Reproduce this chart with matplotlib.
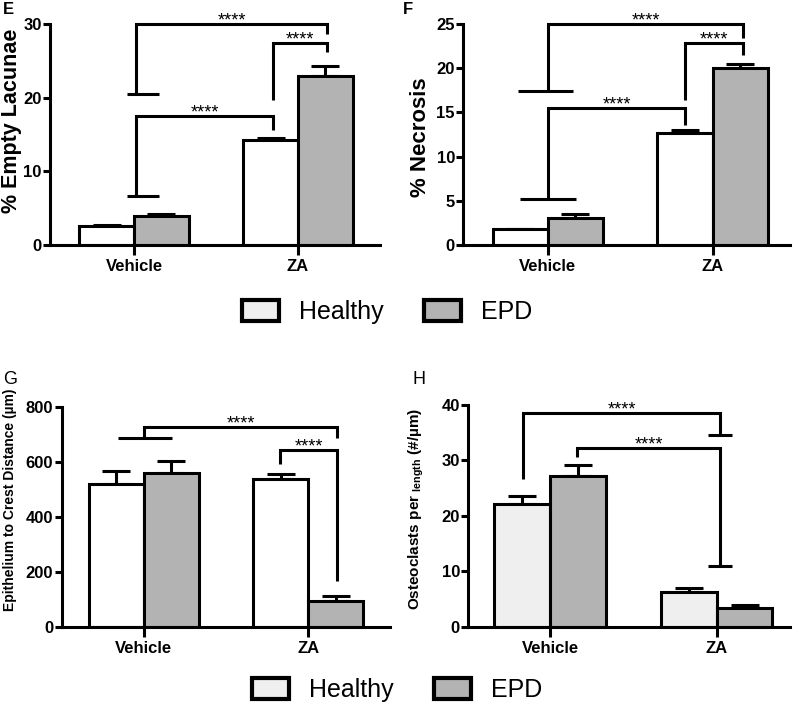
import numpy as np
import matplotlib.pyplot as plt
from matplotlib.patches import Patch

plt.rcParams['font.family'] = ['Liberation Sans', 'DejaVu Sans']
plt.rcParams['mathtext.default'] = 'regular'

groups = ['Vehicle', 'ZA']

# panel E - % empty lacunae
E_healthy = [2.6, 14.2]
E_healthy_err = [0.1, 0.3]
E_epd = [3.9, 23.0]
E_epd_err = [0.3, 1.3]

# panel F - % necrosis
F_healthy = [1.8, 12.7]
F_healthy_err = [0.0, 0.3]
F_epd = [3.1, 20.0]
F_epd_err = [0.4, 0.5]

# panel G - epithelium to crest distance
G_healthy = [518, 537]
G_healthy_err = [50, 18]
G_epd = [558, 95]
G_epd_err = [46, 18]

# panel H - osteoclasts per length
H_healthy = [22.1, 6.3]
H_healthy_err = [1.5, 0.7]
H_epd = [27.2, 3.4]
H_epd_err = [2.0, 0.6]

W = 800
H = 706
width = 0.335
off = width / 2
lw = 2.2
epd_color = '#b3b3b3'

fig = plt.figure(figsize=(W / 100, H / 100), dpi=100)


def px_axes(left, top, right, bottom):
    return fig.add_axes([left / W, 1 - bottom / H, (right - left) / W, (bottom - top) / H])


def bar_panel(ax, healthy, healthy_err, epd, epd_err, healthy_color, ymax, ystep, xlim):
    x = np.arange(len(groups))
    ax.errorbar(x - off, healthy, yerr=[np.zeros(len(x)), healthy_err], fmt='none', ecolor='black',
                elinewidth=lw, capsize=10, capthick=lw, zorder=1)
    ax.errorbar(x + off, epd, yerr=[np.zeros(len(x)), epd_err], fmt='none', ecolor='black',
                elinewidth=lw, capsize=10, capthick=lw, zorder=1)
    ax.bar(x - off, healthy, width, color=healthy_color, edgecolor='black', linewidth=lw, zorder=2)
    ax.bar(x + off, epd, width, color=epd_color, edgecolor='black', linewidth=lw, zorder=2)
    ax.set_xlim(xlim)
    ax.set_ylim(0, ymax)
    ax.set_yticks(np.arange(0, ymax + 1e-9, ystep))
    ax.set_xticks(x)
    ax.set_xticklabels(groups, fontsize=12, fontweight='bold')
    for t in ax.get_yticklabels():
        t.set_fontsize(12)
        t.set_fontweight('bold')
    ax.spines['top'].set_visible(False)
    ax.spines['right'].set_visible(False)
    ax.spines['left'].set_linewidth(lw)
    ax.spines['bottom'].set_linewidth(lw)
    ax.tick_params(axis='y', length=5, width=lw, pad=1)
    ax.tick_params(axis='x', length=7, width=lw, pad=3)


def bracket(ax, x1, x2, y, y1, y2, cross1=None, cross2=None):
    ax.plot([x1, x1, x2, x2], [y1, y, y, y2], color='black', lw=lw, clip_on=False,
            solid_joinstyle='miter', solid_capstyle='butt', zorder=3)
    if cross1 is not None:
        ax.plot(cross1, [y1, y1], color='black', lw=lw, clip_on=False, solid_capstyle='butt', zorder=3)
    if cross2 is not None:
        ax.plot(cross2, [y2, y2], color='black', lw=lw, clip_on=False, solid_capstyle='butt', zorder=3)
    ax.annotate('****', xy=((x1 + x2) / 2, y), xytext=(0, -1), textcoords='offset points',
                ha='center', va='baseline', fontsize=13, annotation_clip=False)


# E
axE = px_axes(50, 24, 380, 245)
bar_panel(axE, E_healthy, E_healthy_err, E_epd, E_epd_err, 'white', 30, 10, (-0.512, 1.5))
axE.set_ylabel('% Empty Lacunae', fontsize=15.5, fontweight='bold')
axE.yaxis.set_label_coords(-0.085, 0.56)
bracket(axE, 0.012, 1.177, 30.0, 20.45, 28.7, cross1=[-0.045, 0.152])
bracket(axE, 0.848, 1.177, 27.4, 19.7, 26.2)
bracket(axE, 0.012, 0.848, 17.55, 6.65, 15.6, cross1=[-0.045, 0.152])

# F
axF = px_axes(463.3, 24, 790, 245)
bar_panel(axF, F_healthy, F_healthy_err, F_epd, F_epd_err, 'white', 25, 5, (-0.513, 1.47))
axF.set_ylabel('% Necrosis', fontsize=16, fontweight='bold')
axF.yaxis.set_label_coords(-0.10, 0.49)
bracket(axF, 0.004, 1.186, 25.0, 17.45, 23.4, cross1=[-0.18, 0.154])
bracket(axF, 0.832, 1.186, 22.8, 16.4, 21.5)
bracket(axF, 0.004, 0.832, 15.5, 5.17, 13.6, cross1=[-0.17, 0.17])

# G
axG = px_axes(61.7, 406.7, 390, 627.3)
bar_panel(axG, G_healthy, G_healthy_err, G_epd, G_epd_err, 'white', 800, 200, (-0.50, 1.497))
axG.set_ylabel('Epithelium to Crest Distance (µm)', fontsize=10, fontweight='bold')
axG.yaxis.set_label_coords(-0.136, 0.577)
bracket(axG, 0.0, 1.176, 725, 685, 685, cross1=[-0.156, 0.172])
bracket(axG, 0.827, 1.176, 643, 592, 169)

# H
axH = px_axes(468.3, 405, 790, 626.7)
bar_panel(axH, H_healthy, H_healthy_err, H_epd, H_epd_err, '#efefef', 40, 10, (-0.49, 1.44))
axH.set_ylabel(r'Osteoclasts per $_{length}$ (#/µm)', fontsize=11, fontweight='bold')
axH.yaxis.set_label_coords(-0.131, 0.53)
bracket(axH, -0.16, 1.02, 38.6, 26.6, 34.5, cross2=[0.95, 1.09])
bracket(axH, 0.164, 1.02, 32.3, 30.6, 11.0, cross2=[0.95, 1.09])

# panel letters
fig.text(3 / W, 1 - 10 / H, 'E', fontsize=12, fontweight='bold', va='center')
fig.text(403 / W, 1 - 10 / H, 'F', fontsize=12, fontweight='bold', va='center')
fig.text(3 / W, 1 - 379 / H, 'G', fontsize=13, va='center')
fig.text(412 / W, 1 - 380 / H, 'H', fontsize=13, va='center')

# legends
handles = [Patch(facecolor='#efefef', edgecolor='black', linewidth=3),
           Patch(facecolor=epd_color, edgecolor='black', linewidth=3)]
labels = ['Healthy', 'EPD']
for cx, cy in [(387, 312), (397, 690)]:
    fig.legend(handles, labels, loc='center', bbox_to_anchor=(cx / W, 1 - cy / H), ncol=2,
               frameon=False, fontsize=18, handlelength=1.5, handleheight=0.9,
               handletextpad=0.8, columnspacing=1.6)

fig.savefig('out.png', dpi=100)
